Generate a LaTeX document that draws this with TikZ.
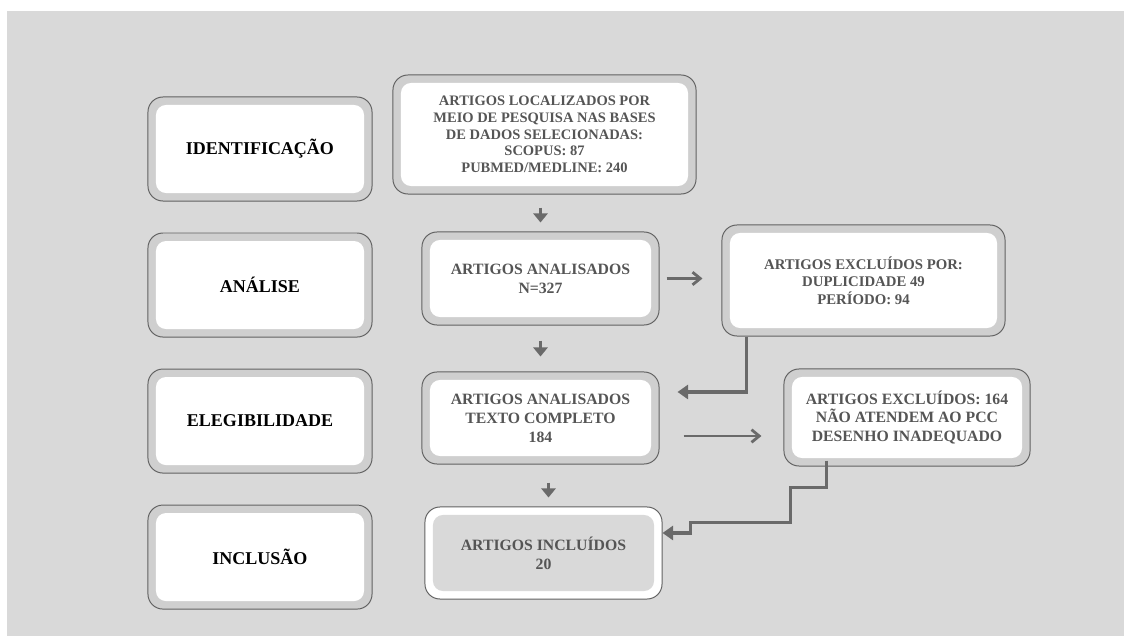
\documentclass[tikz,border=0pt]{standalone}
\usepackage{fontspec}
\setmainfont{Liberation Serif}
\usetikzlibrary{arrows.meta,%
                positioning}
\definecolor{fundo}{HTML}{D9D9D9}
\definecolor{anel}{HTML}{CFCFCF}
\definecolor{borda}{HTML}{626262}
\definecolor{seta}{HTML}{6A6A6A}
\definecolor{texto}{HTML}{555555}

\begin{document}
\begin{tikzpicture}[x=0.025cm,y=-0.025cm]
  \tikzset{node distance = 0.775cm}
  \tikzset{caixa/.style={draw=borda, line width=0.7pt, fill=anel,
      rounded corners=0.375cm, inner sep=0pt, align=center,
      path picture={\fill[#1,rounded corners=0.25cm]
        ([xshift=0.2cm,yshift=-0.2cm]path picture bounding box.north west) rectangle
        ([xshift=-0.2cm,yshift=0.2cm]path picture bounding box.south east);}},
    caixa/.default=white}
  \tikzset{etapa/.style={caixa, minimum width=5.6cm, minimum height=2.6cm,
      text=black, font=\bfseries\fontsize{12.8}{15}\selectfont}}
  \tikzset{passo/.style={caixa, text=texto,
      font=\bfseries\fontsize{11.2}{13.5}\selectfont}}
  \tikzset{desce/.style={draw=seta, line width=2.8pt,
      -{Triangle[width=10pt,length=6.4pt]}}}
  \tikzset{lado/.style={draw=seta, line width=2pt,
      -{Straight Barb[width=9pt,length=5.5pt]}}}
  \tikzset{dobra/.style={draw=seta, line width=2.4pt,
      -{Triangle[width=10pt,length=7.5pt]}}}

  \fill[white] (0,0) rectangle (1131,643);
  \fill[fundo] (7,11) rectangle (1124,636);
  \useasboundingbox (0,0) rectangle (1131,643);

  % etapas
  \node[etapa] (id) at (260,149) {IDENTIFICAÇÃO};
  \node[etapa, below=of id] (an) {ANÁLISE};
  \node[etapa, below=of an] (el) {ELEGIBILIDADE};
  \node[etapa, below=of el] (inc) {INCLUSÃO};

  % fluxo
  \node[passo, minimum width=7.575cm, minimum height=2.975cm,
        font=\bfseries\fontsize{10.3}{11.9}\selectfont] (busca) at (544.5,134.5)
    {ARTIGOS LOCALIZADOS POR\\MEIO DE PESQUISA NAS BASES\\DE DADOS SELECIONADAS:\\SCOPUS: 87\\PUBMED/MEDLINE: 240};
  \node[passo, minimum width=5.925cm, minimum height=2.325cm] (anal) at (540.5,278.5)
    {ARTIGOS ANALISADOS\\N=327};
  \node[passo, minimum width=7.075cm, minimum height=2.775cm,
        font=\bfseries\fontsize{10.5}{12.4}\selectfont] (excl1) at (863.5,280.5)
    {ARTIGOS EXCLUÍDOS POR:\\DUPLICIDADE 49\\PERÍODO: 94};
  \node[passo, minimum width=5.925cm, minimum height=2.3cm] (compl) at (540.5,418)
    {ARTIGOS ANALISADOS\\TEXTO COMPLETO\\184};
  \node[passo, minimum width=6.15cm, minimum height=2.425cm,
        font=\bfseries\fontsize{11.2}{13.3}\selectfont] (excl2) at (907,417.5)
    {ARTIGOS EXCLUÍDOS: 164\\NÃO ATENDEM AO PCC\\DESENHO INADEQUADO};
  \node[passo, caixa=fundo, fill=white, minimum width=5.925cm, minimum height=2.3cm] (incl) at (543.5,553)
    {ARTIGOS INCLUÍDOS\\20};

  \draw[desce, shorten <=0.325cm, shorten >=0.225cm] (busca.south -| anal) -- (anal);
  \draw[desce, shorten <=0.375cm, shorten >=0.375cm] (anal) -- (compl);
  \coordinate (c3) at ([xshift=0.2cm]compl.south);
  \draw[desce, shorten <=0.45cm, shorten >=0.225cm] (c3) -- (c3 |- incl.north);

  \draw[lado, shorten <=0.175cm, shorten >=0.475cm] (anal.east) -- (anal.east -| excl1.west);
  \coordinate (c4) at ([yshift=-0.45cm]compl.east);
  \draw[lado, shorten <=0.6cm, shorten >=0.55cm] (c4) -- (c4 -| excl2.west);

  \draw[dobra, shorten >=0.45cm] ([xshift=0.625cm]excl1.south west) |- ([yshift=0.65cm]compl.east);
  \draw[dobra] ([xshift=1.075cm,yshift=0.15cm]excl2.south west) -- ++(0,27) -- ++(-36,0)
    -- ++(0,35) -- ++(-100,0) |- ([yshift=0.5cm]incl.east);
\end{tikzpicture}
\end{document}
